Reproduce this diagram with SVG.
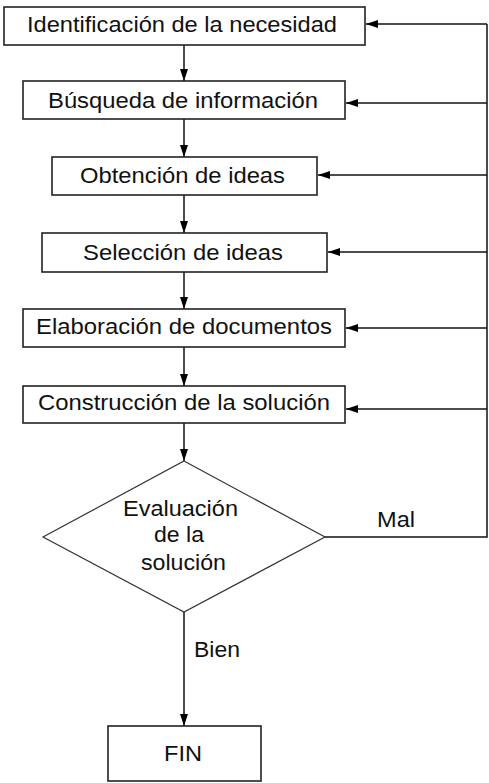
<svg xmlns="http://www.w3.org/2000/svg" width="489" height="783" viewBox="0 0 489 783">
<defs>
<marker id="ah" viewBox="0 0 12 10" refX="12" refY="5" markerWidth="12" markerHeight="10" markerUnits="userSpaceOnUse" orient="auto">
<path d="M0,1 L12,5 L0,9 Z" fill="#000"/>
</marker>
<style>
.box{fill:#fff;stroke:#222;stroke-width:1.6}
.dia{fill:#fff;stroke:#333;stroke-width:1.2}
.t{font-family:"Liberation Sans",Arial,sans-serif;font-size:22px;fill:#111}
.c{fill:none;stroke:#111;stroke-width:1.5}
.ca{fill:none;stroke:#111;stroke-width:1.5;marker-end:url(#ah)}
</style>
</defs>
<rect width="489" height="783" fill="#fff"/>
<g id="connectors">
<line class="ca" x1="184" y1="45" x2="184" y2="81"/>
<line class="ca" x1="184" y1="119" x2="184" y2="157"/>
<line class="ca" x1="184" y1="195" x2="184" y2="233"/>
<line class="ca" x1="184" y1="272" x2="184" y2="309"/>
<line class="ca" x1="184" y1="347" x2="184" y2="386"/>
<line class="ca" x1="184" y1="423" x2="184" y2="461"/>
<line class="ca" x1="184" y1="612" x2="184" y2="726"/>
<polyline class="c" points="325,537 487,537 487,24"/>
<line class="ca" x1="487" y1="24" x2="366" y2="24"/>
<line class="ca" x1="487" y1="103" x2="346" y2="103"/>
<line class="ca" x1="487" y1="175" x2="318" y2="175"/>
<line class="ca" x1="487" y1="252" x2="328" y2="252"/>
<line class="ca" x1="487" y1="328" x2="346" y2="328"/>
<line class="ca" x1="487" y1="409" x2="346" y2="409"/>
<text class="t" x="377" y="527" textLength="38" lengthAdjust="spacingAndGlyphs">Mal</text>
<text class="t" x="194" y="657" textLength="46" lengthAdjust="spacingAndGlyphs">Bien</text>
</g>
<g id="n1">
<rect class="box" x="4" y="7" width="361" height="38"/>
<text class="t" x="27" y="32" textLength="310" lengthAdjust="spacingAndGlyphs">Identificación de la necesidad</text>
</g>
<g id="n2">
<rect class="box" x="23" y="81" width="322" height="38"/>
<text class="t" x="48" y="108" textLength="270" lengthAdjust="spacingAndGlyphs">Búsqueda de información</text>
</g>
<g id="n3">
<rect class="box" x="52" y="157" width="265" height="38"/>
<text class="t" x="80" y="183" textLength="205" lengthAdjust="spacingAndGlyphs">Obtención de ideas</text>
</g>
<g id="n4">
<rect class="box" x="42" y="233" width="285" height="39"/>
<text class="t" x="83" y="260" textLength="200" lengthAdjust="spacingAndGlyphs">Selección de ideas</text>
</g>
<g id="n5">
<rect class="box" x="23" y="309" width="322" height="38"/>
<text class="t" x="36" y="334" textLength="296" lengthAdjust="spacingAndGlyphs">Elaboración de documentos</text>
</g>
<g id="n6">
<rect class="box" x="23" y="386" width="322" height="37"/>
<text class="t" x="38" y="410" textLength="292" lengthAdjust="spacingAndGlyphs">Construcción de la solución</text>
</g>
<g id="n7">
<polygon class="dia" points="184,461 325,537 184,612 43,537"/>
<text class="t" x="123" y="516" textLength="115" lengthAdjust="spacingAndGlyphs">Evaluación</text>
<text class="t" x="154" y="542" textLength="50" lengthAdjust="spacingAndGlyphs">de la</text>
<text class="t" x="141" y="570" textLength="85" lengthAdjust="spacingAndGlyphs">solución</text>
</g>
<g id="n8">
<rect class="box" x="108" y="726" width="153" height="55"/>
<text class="t" x="164" y="761" textLength="38" lengthAdjust="spacingAndGlyphs">FIN</text>
</g>
</svg>
